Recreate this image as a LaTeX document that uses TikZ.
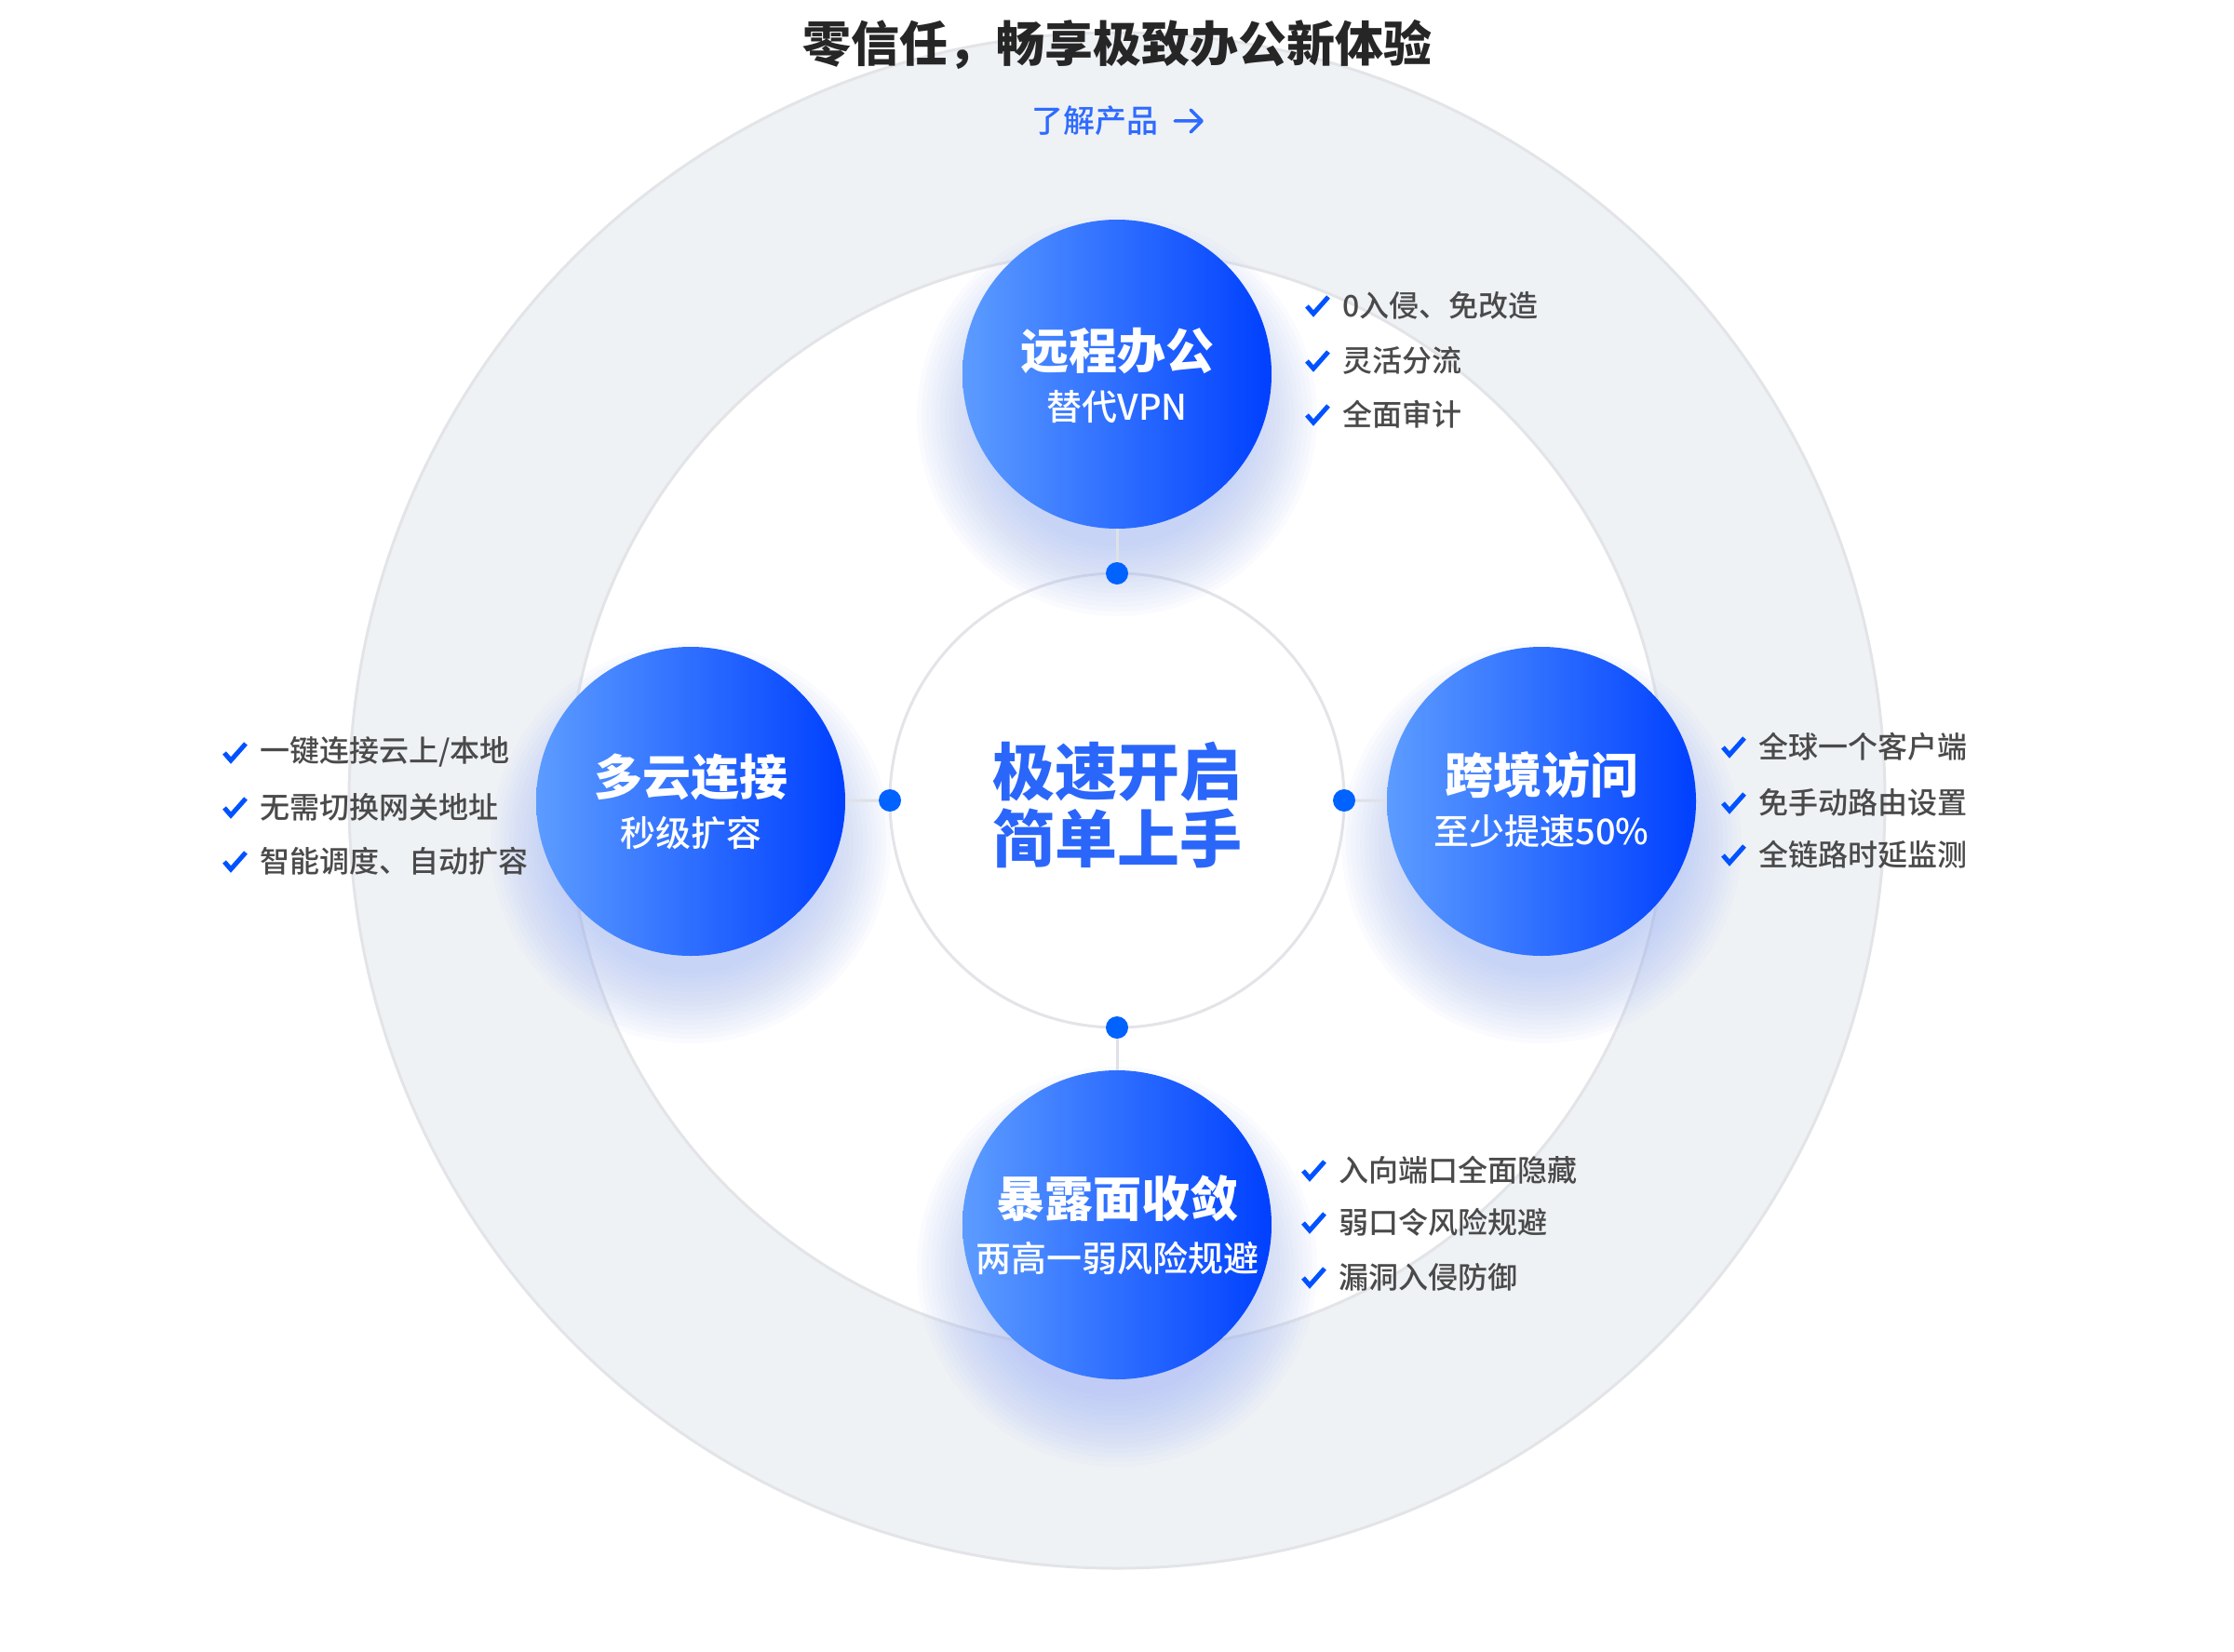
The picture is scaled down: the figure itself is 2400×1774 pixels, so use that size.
\documentclass[tikz,border=0pt]{standalone}
\usepackage{fontspec}
\setmainfont{Noto Sans CJK SC}
\IfFontExistsTF{Noto Sans CJK SC Medium}
  {\newfontfamily\medf{Noto Sans CJK SC Medium}}
  {\newfontfamily\medf[FakeBold=0.8]{Noto Sans CJK SC}}
\definecolor{ringfill}{HTML}{EFF2F5}
\definecolor{ringline}{HTML}{E3E4E8}
\definecolor{conngray}{HTML}{DFE1E7}
\definecolor{dotblue}{HTML}{0062FF}
\definecolor{gradL}{HTML}{5C9CFF}
\definecolor{gradR}{HTML}{0040FF}
\definecolor{centerblue}{HTML}{2A66FA}
\definecolor{titlecol}{HTML}{262626}
\definecolor{linkblue}{HTML}{2F6BFF}
\definecolor{listgray}{HTML}{4A4A4A}
\definecolor{checkblue}{HTML}{0052FF}
\definecolor{glowc}{HTML}{9DB4F6}
\tikzset{
  bubble/.style={circle, minimum size=332pt, inner sep=0pt, left color=gradL, right color=gradR, shading angle=90},
  dotn/.style={circle, fill=dotblue, minimum size=24pt, inner sep=0pt},
  conn/.style={draw=conngray, line width=3pt},
  btitle/.style={text=white, font=\fontsize{52}{56}\selectfont\bfseries, inner sep=0pt},
  bsub/.style={text=white, font=\fontsize{38}{42}\selectfont\medf, inner sep=0pt},
  item/.style={anchor=west, text=listgray, font=\fontsize{32}{36}\selectfont\medf, inner sep=0pt},
  tickst/.style={draw=checkblue, line width=5pt, line join=miter, line cap=butt},
}
\newcommand\tickat[1]{\draw[tickst] ([shift={(-38,1)}]#1.west) -- ++(7,8) -- ++(16,-18);}
\begin{document}
\begin{tikzpicture}[x=1pt,y=-1pt]
\useasboundingbox (0,0) rectangle (2400,1774);
% rings
\coordinate (C) at (1200,860);
\fill[ringfill] (C) circle (825);
\draw[ringline, line width=3pt] (C) circle (825);
\fill[white] (C) circle (590);
\draw[ringline, line width=3pt] (C) circle (590);
\draw[ringline, line width=3pt] (C) circle (244);
% glows
\foreach \gx/\gy in {1200/402, 742/861, 1656/861, 1200/1316}{
  \foreach \r in {140,145,...,215}{
    \fill[glowc, opacity=0.045] (\gx,\gy+45) circle (\r);
  }
}
% circles
\node[bubble] (top) at (1200,402) {};
\node[bubble] (left) at (742,861) {};
\node[bubble] (right) at (1656,861) {};
\node[bubble] (bottom) at (1200,1316) {};
% dots
\node[dotn] (dtop) at (1200,616) {};
\node[dotn] (dleft) at (956,860) {};
\node[dotn] (dright) at (1444,860) {};
\node[dotn] (dbottom) at (1200,1104) {};
\draw[conn] (top) -- (dtop);
\draw[conn] (left) -- (dleft);
\draw[conn] (right) -- (dright);
\draw[conn] (bottom) -- (dbottom);
% header
\node[text=titlecol, font=\fontsize{52}{60}\selectfont\bfseries, inner sep=0pt] (title) at (1200,48) {零信任，畅享极致办公新体验};
\node[text=linkblue, font=\fontsize{34}{40}\selectfont\medf, inner sep=0pt] (link) at (1176,130) {了解产品};
\coordinate (arrA) at ([xshift=18pt]link.east);
\draw[linkblue, line width=3.5pt, line cap=round, line join=round] (arrA) -- ++(29,0) ++(-12,-12) -- ++(12,12) -- ++(-12,12);
% center text
\node[text=centerblue, font=\fontsize{67}{72}\selectfont\bfseries, align=center, inner sep=0pt] (ctext) at (1200,865) {极速开启\\简单上手};
% circle texts
\node[btitle] (ttop) at (1200,377) {远程办公};
\node[bsub] (stop) at (1200,437) {替代VPN};
\node[btitle] (tleft) at (742,835) {多云连接};
\node[bsub] (sleft) at (742,895) {秒级扩容};
\node[btitle] (tright) at (1656,833) {跨境访问};
\node[bsub] (sright) at (1656,893) {至少提速50\%};
\node[btitle] (tbottom) at (1200,1288) {暴露面收敛};
\node[bsub] (sbottom) at (1200,1352) {两高一弱风险规避};
% lists
\node[item] (a1) at (1442,328) {0入侵、免改造};
\node[item] (a2) at (1442,387) {灵活分流};
\node[item] (a3) at (1442,445) {全面审计};
\node[item] (b1) at (279,808) {一键连接云上/本地};
\node[item] (b2) at (279,867) {无需切换网关地址};
\node[item] (b3) at (279,925) {智能调度、自动扩容};
\node[item] (c1) at (1889,802) {全球一个客户端};
\node[item] (c2) at (1889,862) {免手动路由设置};
\node[item] (c3) at (1889,918) {全链路时延监测};
\node[item] (d1) at (1438,1257) {入向端口全面隐藏};
\node[item] (d2) at (1438,1313) {弱口令风险规避};
\node[item] (d3) at (1438,1372) {漏洞入侵防御};
\foreach \n in {a1,a2,a3,b1,b2,b3,c1,c2,c3,d1,d2,d3}{\tickat{\n}}
\end{tikzpicture}
\end{document}
